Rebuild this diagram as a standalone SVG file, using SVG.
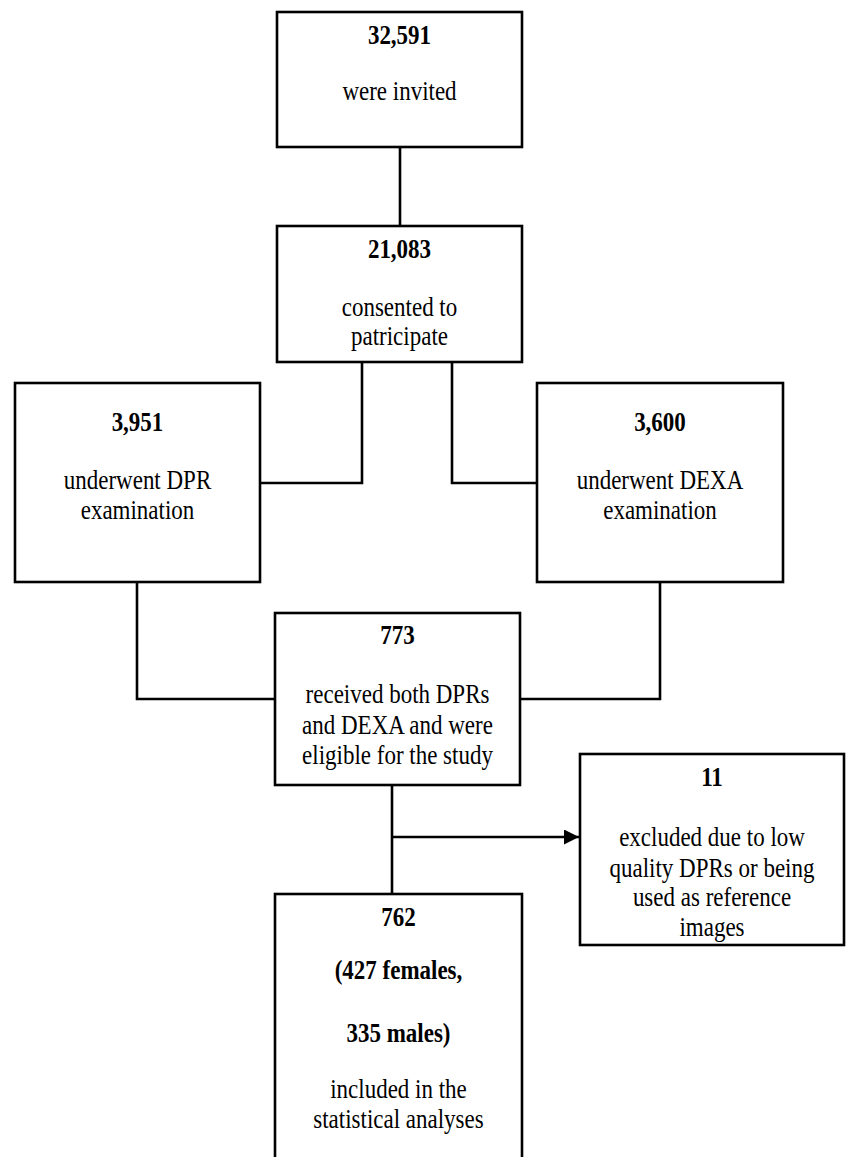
<svg xmlns="http://www.w3.org/2000/svg" width="846" height="1157" viewBox="0 0 846 1157">
<style>
.box{fill:#fff;stroke:#000;stroke-width:2.6}
.ln{fill:none;stroke:#000;stroke-width:2.6}
text{font-family:"Liberation Serif","Times New Roman",serif;font-size:23px;fill:#000;text-anchor:middle}
.b{font-weight:bold}
</style>
<defs>
<marker id="arr" markerWidth="15" markerHeight="15" refX="15" refY="7.5" orient="auto" markerUnits="userSpaceOnUse">
<path d="M0,0 L15,7.5 L0,15 Z" fill="#000"/>
</marker>
</defs>
<rect width="846" height="1157" fill="#fff"/>
<g id="connectors">
<path class="ln" d="M400,147 V226"/>
<path class="ln" d="M362,362 V483 H260"/>
<path class="ln" d="M452,362 V483 H537"/>
<path class="ln" d="M137,582 V699 H275"/>
<path class="ln" d="M660,582 V699 H520"/>
<path class="ln" d="M392,785 V894"/>
<path class="ln" d="M392,837 H579" marker-end="url(#arr)"/>
</g>
<g id="n1">
<rect class="box" x="277" y="12" width="245" height="135"/>
<g transform="scale(1,1.15)">
<text class="b" x="399.5" y="38.26">32,591</text>
<text x="399.5" y="86.96">were invited</text>
</g>
</g>
<g id="n2">
<rect class="box" x="277" y="226" width="245" height="136"/>
<g transform="scale(1,1.15)">
<text class="b" x="399.5" y="224.35">21,083</text>
<text x="399.5" y="274.78">consented to</text>
<text x="399.5" y="300">patricipate</text>
</g>
</g>
<g id="n3">
<rect class="box" x="15" y="383" width="245" height="199"/>
<g transform="scale(1,1.15)">
<text class="b" x="137.5" y="374.78">3,951</text>
<text x="137.5" y="425.22">underwent DPR</text>
<text x="137.5" y="451.3">examination</text>
</g>
</g>
<g id="n4">
<rect class="box" x="537" y="383" width="246" height="199"/>
<g transform="scale(1,1.15)">
<text class="b" x="660" y="374.78">3,600</text>
<text x="660" y="425.22">underwent DEXA</text>
<text x="660" y="451.3">examination</text>
</g>
</g>
<g id="n5">
<rect class="box" x="275" y="613" width="245" height="172"/>
<g transform="scale(1,1.15)">
<text class="b" x="397.5" y="560">773</text>
<text x="397.5" y="611.3">received both DPRs</text>
<text x="397.5" y="638.26">and DEXA and were</text>
<text x="397.5" y="664.35">eligible for the study</text>
</g>
</g>
<g id="n6">
<rect class="box" x="580" y="754" width="264" height="191"/>
<g transform="scale(1,1.15)">
<text class="b" x="712" y="683.48">11</text>
<text x="712" y="735.65">excluded due to low</text>
<text x="712" y="762.61">quality DPRs or being</text>
<text x="712" y="787.83">used as reference</text>
<text x="712" y="813.91">images</text>
</g>
</g>
<g id="n7">
<rect class="box" x="275" y="894" width="247" height="280"/>
<g transform="scale(1,1.15)">
<text class="b" x="398.5" y="805.22">762</text>
<text class="b" x="398.5" y="851.3">(427 females,</text>
<text class="b" x="398.5" y="906.09">335 males)</text>
<text x="398.5" y="954.78">included in the</text>
<text x="398.5" y="980.87">statistical analyses</text>
</g>
</g>
</svg>
